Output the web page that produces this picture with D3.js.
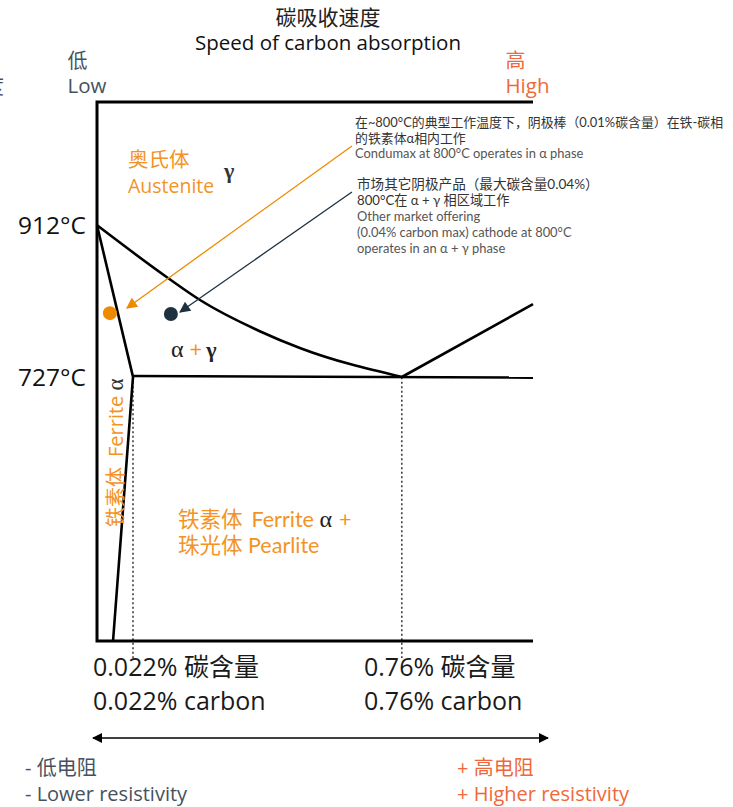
<!DOCTYPE html>
<html>
<head>
<meta charset="utf-8">
<script src="https://cdn.jsdelivr.net/npm/d3@7"></script>
<style>
  html, body { margin: 0; padding: 0; background: #ffffff; }
  svg { display: block; }
</style>
</head>
<body>
<svg id="chart" width="733" height="807"></svg>
<script>
// ---------------- DATA ----------------
// axes of the schematic Fe-C diagram: carbon (%) and temperature (°C)
const carbonDomain = [0, 0.022, 1.12];
const tempDomain = [406, 1062];
const criticalTemps = [912, 727];
const tempLabels = ["912°C", "727°C"];
const carbonMarks = [0.022, 0.76];
const carbonLabelsCN = ["0.022% 碳含量", "0.76% 碳含量"];
const carbonLabelsEN = ["0.022% carbon", "0.76% carbon"];

// phase boundaries [carbon %, temperature °C]
const a3Curve = [[0, 912], [0.118, 847.8], [0.206, 821], [0.37, 783], [0.48, 762.6], [0.76, 727.3]];
const acmLine = [[0.76, 727.3], [1.12, 816]];
const eutectoidLine = [[0.022, 728.5], [1.12, 726.5]];
const ferriteLine = [[0, 912], [0.022, 727.5], [0.0098, 406]];

// operating points [carbon %, temperature °C]
const pointNames = ["Condumax", "Other market offering"];
const pointCarbon = [0.0079, 0.126];
const pointTemp = [805, 804];
// annotation arrows: start and end [carbon %, temperature °C]
const arrowStart = [[0.623, 1008.5], [0.623, 952.5]];
const arrowEnd = [[0.0183, 811.3], [0.151, 806.4]];

const titleCN = "碳吸收速度";
const titleEN = "Speed of carbon absorption";
const speedLow = ["低", "Low"];
const speedHigh = ["高", "High"];
const resistLow = ["- 低电阻", "- Lower resistivity"];
const resistHigh = ["+ 高电阻", "+ Higher resistivity"];
const note1 = ["在~800°C的典型工作温度下，阴极棒（0.01%碳含量）在铁-碳相", "的铁素体α相内工作", "Condumax at 800°C operates in α phase"];
const note2 = ["市场其它阴极产品（最大碳含量0.04%）", "800°C在 α + γ 相区域工作", "Other market offering", "(0.04% carbon max) cathode at 800°C", "operates in an α + γ phase"];

// ---------------- STYLE ----------------
const SANS = "'Open Sans','Noto Sans CJK SC',sans-serif";
const CJK = "'Noto Sans CJK SC','Open Sans',sans-serif";
const TIGHT = "Lato,'Noto Sans CJK SC',sans-serif";
const SERIF = "'Liberation Serif','DejaVu Serif',serif";
const ORANGE = "#f39325";
const DOT_ORANGE = "#ee8a00";
const DARK = "#1e3140";
const RED = "#f0683a";
const GREY = "#45525e";

const svg = d3.select("#chart");

const x = d3.scaleLinear().domain(carbonDomain).range([97, 133, 533]);
const y = d3.scaleLinear().domain(tempDomain).range([641, 102]);

const defs = svg.append("defs");
function marker(id, color, w, h) {
  defs.append("marker").attr("id", id)
    .attr("viewBox", "0 0 10 10").attr("refX", 9).attr("refY", 5)
    .attr("markerUnits", "userSpaceOnUse")
    .attr("markerWidth", w).attr("markerHeight", h)
    .attr("orient", "auto-start-reverse")
    .append("path").attr("d", "M0,0 L10,5 L0,10 Z").attr("fill", color);
}
marker("arrOrange", DOT_ORANGE, 14, 11);
marker("arrDark", DARK, 14, 11);
marker("arrBlack", "#000", 10, 10);

// multi-line text block: lines = [{t, y, size, family, fill}]
function block(x0, lines, anchor) {
  const t = svg.append("text").attr("text-anchor", anchor || "start");
  lines.forEach(l => {
    t.append("tspan").attr("x", x0).attr("y", l.y)
      .attr("font-family", l.family).attr("font-size", l.size)
      .attr("fill", l.fill).text(l.t);
  });
  return t;
}

// cut-off glyph at the very left edge
svg.append("text").attr("x", -16).attr("y", 94)
  .attr("font-family", CJK).attr("font-size", 20).attr("fill", GREY).text("度");

// titles
block(328, [
  { t: titleCN, y: 25, size: 21, family: TIGHT, fill: "#222" },
  { t: titleEN, y: 50, size: 20.5, family: SANS, fill: "#111" }
], "middle");

// low / high speed
block(67.5, [
  { t: speedLow[0], y: 68, size: 20, family: TIGHT, fill: GREY },
  { t: speedLow[1], y: 93, size: 20.5, family: SANS, fill: GREY }
]);
block(505.5, [
  { t: speedHigh[0], y: 68, size: 20, family: TIGHT, fill: RED },
  { t: speedHigh[1], y: 93, size: 20.5, family: SANS, fill: RED }
]);

// frame (top, left, bottom)
const frame = d3.line()([
  [x(carbonDomain[2]), y(tempDomain[1])],
  [x(carbonDomain[0]), y(tempDomain[1])],
  [x(carbonDomain[0]), y(tempDomain[0])],
  [x(carbonDomain[2]), y(tempDomain[0])]
]);
svg.append("path").attr("d", frame).attr("fill", "none")
  .attr("stroke", "#000").attr("stroke-width", 3);

// dotted guides
svg.selectAll(".guide").data(carbonMarks).enter().append("line")
  .attr("x1", d => x(d)).attr("x2", d => x(d))
  .attr("y1", y(727)).attr("y2", y(tempDomain[0]) + 17)
  .attr("stroke", "#000").attr("stroke-width", 1.2).attr("stroke-dasharray", "2,2.5");

// phase boundaries
const lineGen = d3.line().x(d => x(d[0])).y(d => y(d[1]));
const curveGen = d3.line().x(d => x(d[0])).y(d => y(d[1])).curve(d3.curveMonotoneX);
svg.append("path").attr("d", curveGen(a3Curve)).attr("fill", "none").attr("stroke", "#000").attr("stroke-width", 2.6);
[acmLine, eutectoidLine, ferriteLine].forEach(l => {
  svg.append("path").attr("d", lineGen(l)).attr("fill", "none").attr("stroke", "#000")
    .attr("stroke-width", 2.6).attr("stroke-linejoin", "round");
});

// temperature labels
svg.selectAll(".tl").data(criticalTemps).enter().append("text")
  .attr("x", 86).attr("y", d => y(d) + 9).attr("text-anchor", "end")
  .attr("font-family", SANS).attr("font-size", 24.5).attr("fill", "#111")
  .text((d, i) => tempLabels[i]);

// arrows
const arrowColors = [DOT_ORANGE, DARK];
const arrowMarkers = ["arrOrange", "arrDark"];
arrowStart.forEach((s, i) => {
  svg.append("line")
    .attr("x1", x(s[0])).attr("y1", y(s[1]))
    .attr("x2", x(arrowEnd[i][0])).attr("y2", y(arrowEnd[i][1]))
    .attr("stroke", arrowColors[i]).attr("stroke-width", 1.3)
    .attr("marker-end", `url(#${arrowMarkers[i]})`);
});

// operating points
svg.selectAll(".pt").data(pointNames).enter().append("circle")
  .attr("cx", (d, i) => x(pointCarbon[i])).attr("cy", (d, i) => y(pointTemp[i]))
  .attr("r", 7).attr("fill", (d, i) => [DOT_ORANGE, DARK][i]);

// Austenite label
block(128, [
  { t: "奥氏体", y: 167, size: 20.5, family: TIGHT, fill: ORANGE },
  { t: "Austenite", y: 193, size: 19.5, family: SANS, fill: ORANGE }
]);
svg.append("text").attr("x", 224).attr("y", 178).attr("font-family", SERIF)
  .attr("font-size", 22).attr("font-weight", "bold").attr("fill", "#333").text("γ");

// alpha + gamma
const ag = svg.append("text").attr("x", 171).attr("y", 357).attr("font-size", 22);
ag.append("tspan").attr("font-family", SERIF).attr("fill", "#222").attr("font-size", 24).text("α");
ag.append("tspan").attr("font-family", SANS).attr("fill", ORANGE).attr("dx", 6).text("+");
ag.append("tspan").attr("font-family", SERIF).attr("font-weight", "bold").attr("fill", "#222").attr("dx", 4).text("γ");

// rotated Ferrite label
const fr = svg.append("text").attr("transform", "translate(123,527) rotate(-90)")
  .attr("font-size", 20).attr("fill", ORANGE);
fr.append("tspan").attr("font-family", CJK).text("铁素体");
fr.append("tspan").attr("font-family", SANS).attr("dx", 10).text("Ferrite ");
fr.append("tspan").attr("font-family", SERIF).attr("fill", "#333").attr("font-size", 23).text("α");

// Ferrite + Pearlite label
const fp = svg.append("text").attr("font-size", 21.5).attr("fill", ORANGE).attr("font-family", TIGHT);
fp.append("tspan").attr("x", 178).attr("y", 527).text("铁素体");
fp.append("tspan").attr("dx", 9).text("Ferrite ");
fp.append("tspan").attr("font-family", SERIF).attr("fill", "#222").attr("font-size", 24).text("α");
fp.append("tspan").attr("dx", 7).text("+");
fp.append("tspan").attr("x", 178).attr("y", 553).text("珠光体 Pearlite");

// annotation 1
block(355, [
  { t: note1[0], y: 127, size: 12.9, family: TIGHT, fill: "#333" },
  { t: note1[1], y: 142.5, size: 12.9, family: TIGHT, fill: "#333" },
  { t: note1[2], y: 158, size: 12.9, family: TIGHT, fill: "#555" }
]);
// annotation 2
block(357, [
  { t: note2[0], y: 189, size: 13.6, family: TIGHT, fill: "#333" },
  { t: note2[1], y: 205, size: 13.2, family: TIGHT, fill: "#333" },
  { t: note2[2], y: 220.5, size: 12.9, family: TIGHT, fill: "#555" },
  { t: note2[3], y: 236.5, size: 12.9, family: TIGHT, fill: "#555" },
  { t: note2[4], y: 252.5, size: 12.9, family: TIGHT, fill: "#555" }
]);

// carbon labels
carbonMarks.forEach((d, i) => {
  block([93, 364][i], [
    { t: carbonLabelsCN[i], y: 676, size: 25, family: SANS, fill: "#1a1a1a" },
    { t: carbonLabelsEN[i], y: 710, size: 25, family: SANS, fill: "#1a1a1a" }
  ]);
});

// resistivity arrow
svg.append("line").attr("x1", 93).attr("x2", 548).attr("y1", 738).attr("y2", 738)
  .attr("stroke", "#000").attr("stroke-width", 1.5)
  .attr("marker-start", "url(#arrBlack)").attr("marker-end", "url(#arrBlack)");

block(25, [
  { t: resistLow[0], y: 775, size: 20, family: SANS, fill: GREY },
  { t: resistLow[1], y: 801, size: 20, family: SANS, fill: GREY }
]);
block(457, [
  { t: resistHigh[0], y: 775, size: 20, family: SANS, fill: RED },
  { t: resistHigh[1], y: 801, size: 20, family: SANS, fill: RED }
]);
</script>
</body>
</html>
